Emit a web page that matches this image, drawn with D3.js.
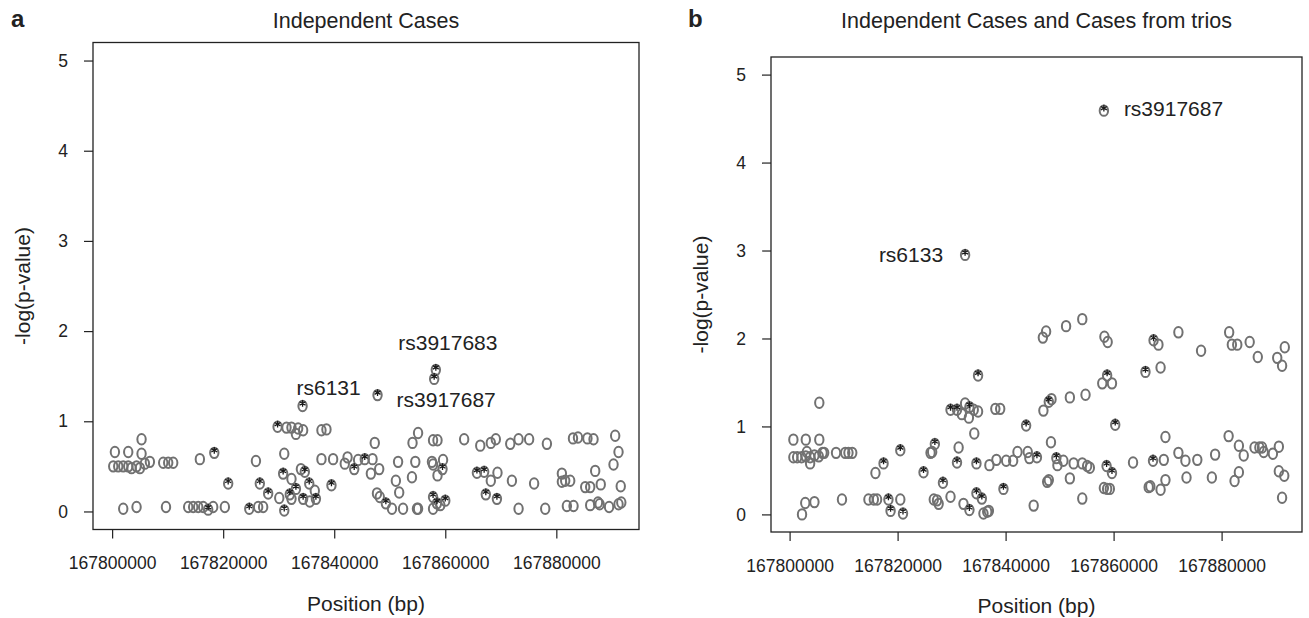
<!DOCTYPE html>
<html>
<head>
<meta charset="utf-8">
<script src="https://cdn.jsdelivr.net/npm/d3@7"></script>
<style>
  body { margin: 0; background: #fff; }
  svg text { font-family: "Liberation Sans", Arial, Helvetica, sans-serif; fill: #222; }
</style>
</head>
<body>
<div id="chart"></div>
<script>
// ---- data ----
var xTicks = [167800000, 167820000, 167840000, 167860000, 167880000];
var yTicks = [0, 1, 2, 3, 4, 5];

// panel a: independent cases
var posA = [167800500,167802900,167805300,167805300,167800200,167801100,167802000,167802900,167803500,167804400,
  167805000,167805900,167806800,167809200,167810100,167811000,167802000,167804400,167809700,167813700,
  167814600,167815500,167816400,167817300,167818200,167820300,167815800,167818400,167820900,167825900,
  167824700,167826300,167827200,167826600,167828100,167830100,167830800,167831000,167831000,167829800,
  167831400,167832300,167833100,167833500,167834400,167834300,167832300,167832000,167833100,167834000,
  167834700,167835500,167834400,167835600,167836700,167832300,167836500,167837700,167838600,167837700,
  167839800,167839500,167841900,167842400,167843600,167844300,167845500,167846900,167846600,167848100,
  167847300,167847800,167847700,167848200,167849300,167850400,167852400,167854900,167855100,167851500,
  167854600,167851100,167854000,167851700,167854100,167855100,167857800,167858600,167857600,167857800,
  167859600,167859500,167858600,167857800,167858500,167859100,167860000,167857800,167858300,167858000,
  167863400,167866300,167868200,167869100,167865700,167867000,167868200,167869400,167867300,167869300,
  167871700,167873200,167875100,167872000,167876000,167873200,167878000,167878300,167881000,167881600,
  167882500,167881000,167883000,167883900,167885600,167885200,167886100,167881900,167883100,167886100,
  167886700,167887000,167887500,167887800,167889500,167890300,167890600,167891200,167891600,167891700,
  167891200,167888000];
var valA = [0.66,0.66,0.80,0.64,0.50,0.50,0.50,0.50,0.48,0.50,
  0.48,0.53,0.55,0.54,0.54,0.54,0.03,0.05,0.05,0.05,
  0.05,0.05,0.05,0.02,0.05,0.05,0.58,0.65,0.31,0.56,
  0.03,0.05,0.05,0.31,0.20,0.15,0.42,0.64,0.01,0.94,
  0.93,0.93,0.86,0.92,0.90,1.17,0.36,0.19,0.25,0.47,
  0.44,0.31,0.14,0.11,0.14,0.14,0.23,0.90,0.91,0.58,
  0.58,0.29,0.53,0.60,0.47,0.57,0.58,0.58,0.42,0.47,
  0.76,1.29,0.20,0.16,0.09,0.03,0.03,0.03,0.03,0.55,
  0.55,0.34,0.38,0.21,0.76,0.87,0.79,0.79,0.55,0.52,
  0.57,0.47,0.40,0.16,0.09,0.07,0.12,0.03,1.57,1.47,
  0.80,0.73,0.76,0.80,0.43,0.44,0.34,0.43,0.19,0.14,
  0.75,0.80,0.80,0.34,0.31,0.03,0.03,0.75,0.42,0.34,
  0.34,0.33,0.81,0.82,0.81,0.27,0.27,0.06,0.06,0.07,
  0.80,0.45,0.10,0.08,0.05,0.52,0.84,0.66,0.28,0.10,
  0.08,0.30];
var starA = [0,0,0,0,0,0,0,0,0,0, 0,0,0,0,0,0,0,0,0,0, 0,0,0,1,0,0,0,1,1,0,
  1,0,0,1,1,0,1,0,1,1, 0,0,0,0,0,1,0,1,1,0, 1,1,1,0,1,0,0,0,0,0,
  0,1,0,0,1,0,1,0,0,0, 0,1,0,0,1,0,0,0,0,0, 0,0,0,0,0,0,0,0,0,0,
  0,1,0,1,1,0,1,0,1,1, 0,0,0,0,1,1,0,0,1,1, 0,0,0,0,0,0,0,0,0,0,
  0,0,0,0,0,0,0,0,0,0, 0,0,0,0,0,0,0,0,0,0, 0,0];
var snpA = ["rs6131", "rs3917683", "rs3917687"];
var snpPosA = [167834300, 167858300, 167858000];
var snpValA = [1.17, 1.57, 1.47];

// panel b: independent cases and cases from trios
var posB = [167800700,167803000,167805500,167805500,167800700,167801400,167802200,167803000,167803800,167804600,
  167805400,167806100,167806400,167803200,167803800,167808600,167810300,167810900,167811600,167802300,
  167802900,167804600,167809700,167814600,167815600,167816200,167815900,167817400,167818300,167818700,
  167820500,167820500,167821000,167824800,167826100,167826900,167826700,167827300,167827600,167828400,
  167829800,167826400,167829800,167831000,167831900,167832500,167833300,167833200,167834100,167834900,
  167834900,167838100,167839000,167834200,167831300,167831000,167834600,167837000,167838300,167840100,
  167841400,167842200,167844100,167844400,167845800,167832200,167833300,167834600,167835600,167835900,
  167836600,167836900,167839600,167843800,167845200,167848400,167847700,167848000,167847000,167848000,
  167848500,167851900,167854800,167846900,167847500,167851200,167854200,167858300,167858900,167858800,
  167857900,167859700,167860300,167849400,167849600,167850700,167852600,167854200,167855100,167855600,
  167851900,167854200,167858700,167859700,167858200,167858800,167859300,167863600,167867300,167869300,
  167869600,167866500,167868700,167869600,167865900,167868700,167867400,167868300,167872000,167876200,
  167881400,167881900,167882900,167885200,167886700,167890300,167891200,167891700,167872000,167873300,
  167875500,167878800,167881300,167883200,167884100,167886100,167887000,167887500,167887800,167889500,
  167890600,167866800,167873500,167878200,167883200,167882400,167890600,167891600,167891200,167832500,
  167858200];
var valB = [0.85,0.85,0.85,1.27,0.65,0.65,0.65,0.66,0.65,0.67,
  0.66,0.70,0.70,0.71,0.58,0.70,0.70,0.70,0.70,0.00,
  0.13,0.14,0.17,0.17,0.17,0.17,0.47,0.58,0.17,0.04,
  0.73,0.17,0.01,0.48,0.70,0.80,0.17,0.16,0.12,0.36,
  0.20,0.71,1.19,1.19,1.14,1.26,1.22,1.10,1.19,1.17,
  1.58,1.20,1.20,0.92,0.76,0.59,0.58,0.56,0.62,0.61,
  0.61,0.71,0.71,0.64,0.65,0.12,0.05,0.24,0.18,0.01,
  0.03,0.04,0.29,1.01,0.10,0.82,0.37,0.39,1.18,1.28,
  1.31,1.33,1.36,2.01,2.08,2.14,2.22,2.02,1.96,1.58,
  1.49,1.49,1.02,0.64,0.56,0.61,0.58,0.58,0.55,0.53,
  0.41,0.18,0.55,0.47,0.30,0.29,0.29,0.59,0.61,0.62,
  0.88,0.31,0.28,0.39,1.62,1.67,1.98,1.93,2.07,1.86,
  2.07,1.93,1.93,1.96,1.79,1.78,1.69,1.90,0.70,0.61,
  0.62,0.68,0.89,0.78,0.67,0.76,0.76,0.76,0.71,0.69,
  0.77,0.32,0.42,0.42,0.48,0.38,0.49,0.44,0.19,2.95,
  4.59];
var starB = [0,0,0,0,0,0,0,0,0,0, 0,0,0,0,0,0,0,0,0,0, 0,0,0,0,0,0,0,1,1,1,
  1,0,1,1,0,1,0,0,0,1, 0,0,1,1,0,0,1,0,0,0, 1,0,0,0,0,1,1,0,0,0,
  0,0,0,0,1,0,1,1,1,0, 0,0,1,1,0,0,0,0,0,1, 0,0,0,0,0,0,0,0,0,1,
  0,0,1,1,0,0,0,0,0,0, 0,0,1,1,0,0,0,0,1,0, 0,0,0,0,1,0,1,0,0,0,
  0,0,0,0,0,0,0,0,0,0, 0,0,0,0,0,0,0,0,0,0, 0,0,0,0,0,0,0,0,0,1,
  1];
var snpB = ["rs6133", "rs3917687"];
var snpPosB = [167832500, 167858200];
var snpValB = [2.95, 4.59];

// ---- drawing ----
var svg = d3.select("#chart").append("svg")
    .attr("width", 1309)
    .attr("height", 618);

function drawPanel(p) {
    var x = d3.scaleLinear()
        .domain([167796556, 167894889])
        .range([p.left, p.right]);
    var y = d3.scaleLinear()
        .domain([-0.2, 5.2])
        .range([p.bottom, p.top]);

    var g = svg.append("g");

    var xa = g.append("g")
        .attr("transform", "translate(0," + p.bottom + ")")
        .call(d3.axisBottom(x).tickValues(xTicks).tickFormat(d3.format("d"))
            .tickSize(9).tickPadding(18.5));
    var ya = g.append("g")
        .attr("transform", "translate(" + p.left + ",0)")
        .call(d3.axisLeft(y).tickValues(yTicks).tickFormat(d3.format("d"))
            .tickSize(9).tickPadding(16));
    [xa, ya].forEach(function(a) {
        a.select(".domain").remove();
        a.selectAll("line").attr("stroke", "#222").attr("stroke-width", 1.2);
        a.selectAll("text").style("font-size", "17.5px").attr("fill", "#222");
    });

    g.append("rect")
        .attr("x", p.left).attr("y", p.top)
        .attr("width", p.right - p.left).attr("height", p.bottom - p.top)
        .attr("fill", "none").attr("stroke", "#222").attr("stroke-width", 1.3);

    var pts = p.pos.map(function(d, i) { return {pos: d, val: p.val[i], star: p.star[i]}; });

    g.selectAll("ellipse.pt").data(pts).enter().append("ellipse")
        .attr("class", "pt")
        .attr("cx", function(d) { return x(d.pos); })
        .attr("cy", function(d) { return y(d.val); })
        .attr("rx", 4.2).attr("ry", 5.2)
        .attr("fill", "none").attr("stroke", "#717171").attr("stroke-width", 2);

    // asterisk marks
    var ast = "M0,-3.4L0,3.4M-2.95,-1.7L2.95,1.7M-2.95,1.7L2.95,-1.7";
    g.selectAll("path.star").data(pts.filter(function(d) { return d.star; })).enter().append("path")
        .attr("class", "star")
        .attr("d", ast)
        .attr("transform", function(d) { return "translate(" + x(d.pos) + "," + (y(d.val) - 2.5) + ")"; })
        .attr("fill", "none").attr("stroke", "#1a1a1a").attr("stroke-width", 1.3);

    // snp labels
    p.snp.forEach(function(name, i) {
        var o = p.snpOff[i];
        g.append("text")
            .attr("x", x(p.snpPos[i]) + o[0])
            .attr("y", y(p.snpVal[i]) + o[1])
            .attr("text-anchor", o[2])
            .style("font-size", "21px")
            .text(name);
    });

    // titles
    g.append("text")
        .attr("x", (p.left + p.right) / 2).attr("y", 28)
        .attr("text-anchor", "middle").style("font-size", "21.5px")
        .text(p.title);
    g.append("text")
        .attr("x", (p.left + p.right) / 2).attr("y", p.bottom + 81)
        .attr("text-anchor", "middle").style("font-size", "21px")
        .text("Position (bp)");
    g.append("text")
        .attr("transform", "translate(" + (p.left - 63) + "," + ((p.top + p.bottom) / 2) + ") rotate(-90)")
        .attr("text-anchor", "middle").style("font-size", "21px")
        .text("-log(p-value)");
    g.append("text")
        .attr("x", p.letterX).attr("y", 27)
        .style("font-size", "24px").style("font-weight", "bold")
        .text(p.letter);
}

drawPanel({
    left: 93, right: 639, top: 42.5, bottom: 529.5,
    pos: posA, val: valA, star: starA,
    snp: snpA, snpPos: snpPosA, snpVal: snpValA,
    snpOff: [[26, -11, "middle"], [12, -20, "middle"], [12, 28, "middle"]],
    title: "Independent Cases", letter: "a", letterX: 11
});
drawPanel({
    left: 771, right: 1302, top: 57, bottom: 532,
    pos: posB, val: valB, star: starB,
    snp: snpB, snpPos: snpPosB, snpVal: snpValB,
    snpOff: [[-22, 7.5, "end"], [20, 5, "start"]],
    title: "Independent Cases and Cases from trios", letter: "b", letterX: 688
});
</script>
</body>
</html>
